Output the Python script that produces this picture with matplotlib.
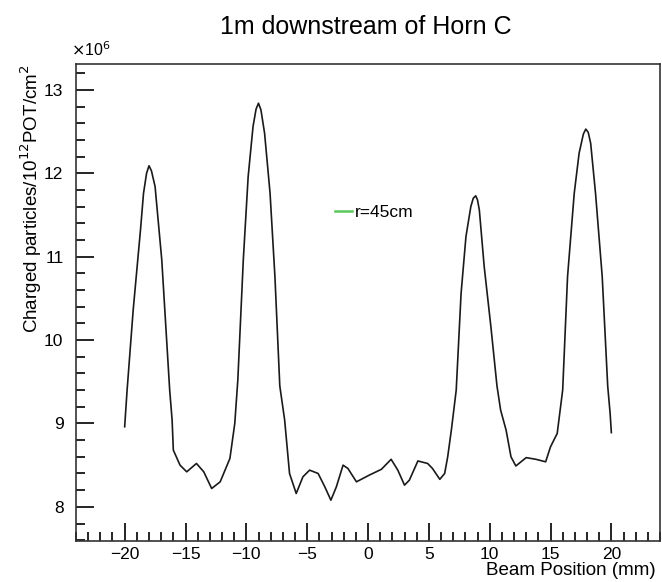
import numpy as np
import matplotlib
matplotlib.use("Agg")
import matplotlib.pyplot as plt
from matplotlib.lines import Line2D

plt.rcParams["font.family"] = ["Liberation Sans", "DejaVu Sans"]

# traced points: beam position (mm) and charged particles (x1e6 / 1e12 POT / cm^2)
beam_pos = [
    -20.0, -19.8, -19.3, -18.7, -18.45, -18.2, -18.0, -17.8, -17.5, -16.95,
    -16.3, -16.1, -16.0, -15.45, -14.9, -14.1, -13.5, -12.85, -12.15, -11.35,
    -10.95, -10.7, -10.25, -9.85, -9.45, -9.2, -9.0, -8.8, -8.5, -8.05,
    -7.65, -7.25, -6.85, -6.45, -5.9, -5.35, -4.8, -4.1, -3.55, -3.05,
    -2.6, -2.05, -1.65, -0.95, 0.1, 1.1, 1.9, 2.45, 3.0, 3.4,
    4.1, 4.9, 5.3, 5.9, 6.3, 6.55, 6.85, 7.25, 7.65, 8.05,
    8.45, 8.65, 8.85, 9.0, 9.15, 9.55, 10.1, 10.6, 10.9, 11.35,
    11.75, 12.15, 13.0, 13.8, 14.6, 15.0, 15.55, 16.0, 16.4, 16.95,
    17.35, 17.7, 17.9, 18.1, 18.3, 18.7, 19.25, 19.7, 19.9, 20.0,
]
charged = [
    8.96, 9.40, 10.36, 11.32, 11.76, 12.00, 12.09, 12.03, 11.84, 10.96,
    9.40, 9.04, 8.68, 8.50, 8.42, 8.52, 8.42, 8.22, 8.30, 8.58,
    9.00, 9.52, 10.96, 11.96, 12.56, 12.77, 12.84, 12.76, 12.48, 11.76,
    10.76, 9.45, 9.04, 8.40, 8.16, 8.36, 8.44, 8.40, 8.24, 8.08,
    8.24, 8.50, 8.46, 8.30, 8.38, 8.45, 8.57, 8.44, 8.26, 8.32,
    8.55, 8.52, 8.46, 8.33, 8.40, 8.60, 8.92, 9.40, 10.56, 11.24,
    11.60, 11.70, 11.73, 11.68, 11.56, 10.88, 10.16, 9.45, 9.16, 8.92,
    8.60, 8.49, 8.59, 8.57, 8.54, 8.72, 8.88, 9.40, 10.76, 11.76,
    12.24, 12.47, 12.53, 12.49, 12.36, 11.76, 10.76, 9.45, 9.12, 8.89,
]
legend_label = "r=45cm"

fig = plt.figure(figsize=(6.62, 5.82), dpi=100)
ax = fig.add_axes([0.1148, 0.0704, 0.997 - 0.1148, 0.890 - 0.0704])

ax.plot(beam_pos, charged, color="#1a1a1a", lw=1.2)

ax.set_xlim(-24, 24)
ax.set_ylim(7.59, 13.31)
ax.set_xticks(np.arange(-20, 21, 5))
ax.set_xticks(np.arange(-24, 25, 1), minor=True)
ax.set_yticks(np.arange(8, 14, 1))
ax.set_yticks(np.arange(7.6, 13.31, 0.2), minor=True)
ax.tick_params(which="both", direction="in", width=1.2, labelsize=12.5)
ax.tick_params(which="major", length=13)
ax.tick_params(which="minor", length=6.5)
ax.tick_params(axis="y", which="both", right=False, pad=9)
ax.tick_params(axis="x", which="both", top=False, pad=4)
for s in ax.spines.values():
    s.set_linewidth(1.2)
    s.set_color("#333333")

ax.set_xlabel("Beam Position (mm)", fontsize=13.5, loc="right")
ax.xaxis.set_label_coords(0.992, -0.045)
ax.set_ylabel(r"Charged particles/10$^{12}$POT/cm$^{2}$", fontsize=13.5, loc="top", labelpad=0)
fig.text(0.553, 0.942, "1m downstream of Horn C", ha="center", va="baseline", fontsize=18)
fig.text(0.108, 0.898, r"$\times$10$^{6}$", ha="left", va="bottom", fontsize=11.5)

handle = Line2D([], [], color="#5ac85a", lw=1.8)
ax.legend([handle], [legend_label], loc="center left", bbox_to_anchor=(0.4435, 0.688),
          frameon=False, handlelength=1.0, handletextpad=0.15, fontsize=12.5,
          borderpad=0, borderaxespad=0)

fig.savefig("out.png", dpi=100)
